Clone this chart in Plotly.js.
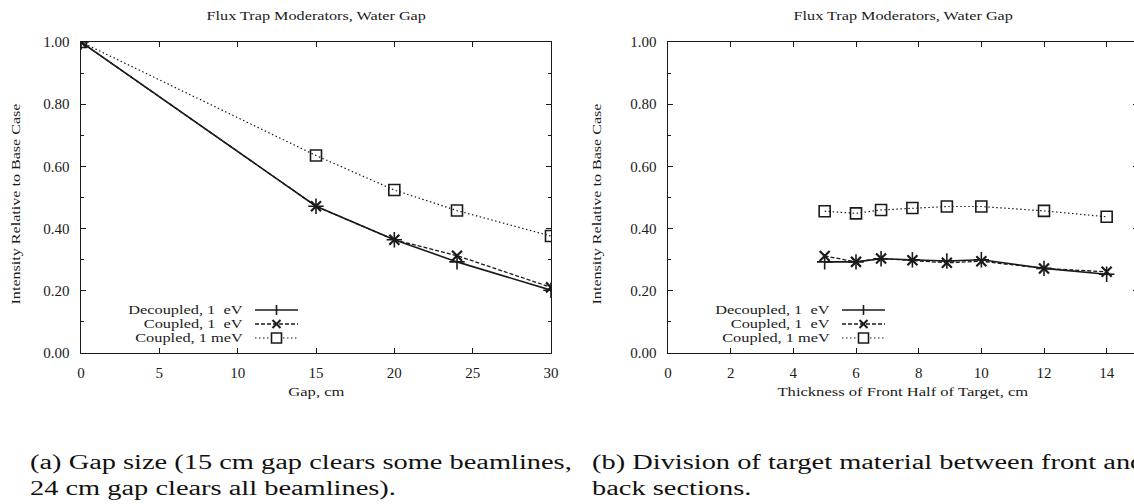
<!DOCTYPE html>
<html>
<head>
<meta charset="utf-8">
<script src="https://cdn.plot.ly/plotly-3.0.1.min.js"></script>
<style>
html,body{margin:0;padding:0;overflow:hidden;background:#fff;width:1134px;height:504px;}
#chart{width:1180px;height:504px;}
</style>
</head>
<body>
<div id="chart"></div>
<script>
// ---- data: (a) gap size ----
const gapCm = [0, 15, 20, 24, 30];
const gapDecoupled1eV = [1.00, 0.472, 0.364, 0.293, 0.202];
const gapCoupled1eV   = [1.00, 0.472, 0.364, 0.313, 0.211];
const gapCoupled1meV  = [1.00, 0.635, 0.524, 0.458, 0.376];

// ---- data: (b) front thickness ----
const frontCm = [5, 6, 6.8, 7.8, 8.9, 10, 12, 14];
const frontDecoupled1eV = [0.293, 0.293, 0.303, 0.300, 0.296, 0.300, 0.272, 0.253];
const frontCoupled1eV   = [0.312, 0.293, 0.304, 0.298, 0.290, 0.295, 0.272, 0.261];
const frontCoupled1meV  = [0.456, 0.449, 0.460, 0.466, 0.471, 0.471, 0.457, 0.438];

const seriesNames = ["Decoupled, 1  eV", "Coupled, 1  eV", "Coupled, 1 meV"];
const plotTitle = "Flux Trap Moderators, Water Gap";
const yTitle = "Intensity Relative to Base Case";
const xTitleA = "Gap, cm";
const xTitleB = "Thickness of Front Half of Target, cm";
const captionA = ["(a) Gap size (15 cm gap clears some beamlines,", "24 cm gap clears all beamlines)."];
const captionB = ["(b) Division of target material between front and", "back sections."];

// ---- layout geometry (pixels) ----
const W = 1180, H = 504;
const px = x => x / W;
const py = y => 1 - y / H;
const serif = "Liberation Serif, Times New Roman, serif";
const ink = "#1a1a1a";

const styles = [
  {line:{color:ink, width:1.6, dash:"solid"}, marker:{symbol:"cross-thin-open", size:11, line:{color:ink, width:1.6}}},
  {line:{color:ink, width:1.3, dash:"4px,2px"}, marker:{symbol:"x-thin-open", size:10, line:{color:ink, width:2.2}}},
  {line:{color:ink, width:1.2, dash:"1.5px,2.5px"}, marker:{symbol:"square-open", size:11, line:{color:ink, width:1.6}}}
];

function mk(x, y, i, xa, ya) {
  return {x:x, y:y, xaxis:xa, yaxis:ya, type:"scatter", mode:"lines+markers",
          name:seriesNames[i], showlegend:false,
          line:styles[i].line, marker:styles[i].marker};
}

const traces = [
  mk(gapCm, gapCoupled1meV, 2, "x", "y"),
  mk(gapCm, gapCoupled1eV, 1, "x", "y"),
  mk(gapCm, gapDecoupled1eV, 0, "x", "y"),
  mk(frontCm, frontCoupled1meV, 2, "x2", "y2"),
  mk(frontCm, frontCoupled1eV, 1, "x2", "y2"),
  mk(frontCm, frontDecoupled1eV, 0, "x2", "y2")
];

const yDom = [py(353), py(42)];
const tickFont = {family:serif, size:15, color:ink};
function xax(dom, range, dtick, anchor) {
  return {domain:dom, range:range, dtick:dtick, tick0:0, anchor:anchor,
    ticks:"inside", ticklen:5, tickwidth:1, tickcolor:ink, mirror:"ticks",
    showline:true, linecolor:ink, linewidth:1.4, showgrid:false, zeroline:false,
    tickfont:tickFont, ticklabelstandoff:6, fixedrange:true};
}
function yax(anchor) {
  return {domain:yDom, range:[0,1], dtick:0.2, tick0:0, tickformat:".2f", anchor:anchor,
    ticks:"inside", ticklen:5, tickwidth:1, tickcolor:ink, mirror:"ticks",
    showline:true, linecolor:ink, linewidth:1.4, showgrid:false, zeroline:false,
    minor:{dtick:0.1, ticks:"inside", ticklen:3, tickcolor:ink, showgrid:false},
    tickfont:tickFont, ticklabelstandoff:7, fixedrange:true};
}

const plots = [
  {left:81, right:551, xTitle:xTitleA, caption:captionA, capX:28, yTitleX:16},
  {left:668, right:1138, xTitle:xTitleB, caption:captionB, capX:590, yTitleX:597}
];

// the scanned figure's lettering is set wide: stretch text horizontally
const annotations = [];
const stretch = [];
function addAnn(a, f) { annotations.push(a); stretch.push(f); }
const shapes = [];
plots.forEach(p => {
  const cx = (p.left + p.right) / 2;
  addAnn({text:plotTitle, xref:"paper", yref:"paper", x:px(cx), y:py(16),
    xanchor:"center", yanchor:"middle", showarrow:false, font:{family:serif, size:12, color:ink}}, 1.35);
  addAnn({text:p.xTitle, xref:"paper", yref:"paper", x:px(cx), y:py(392),
    xanchor:"center", yanchor:"middle", showarrow:false, font:{family:serif, size:12, color:ink}}, 1.38);
  addAnn({text:yTitle, xref:"paper", yref:"paper", x:px(p.yTitleX), y:py(204),
    xanchor:"center", yanchor:"middle", textangle:-90, showarrow:false, font:{family:serif, size:12, color:ink}}, 1.34);
  p.caption.forEach((line, k) => {
    addAnn({text:line, xref:"paper", yref:"paper", x:px(p.capX), y:py(462 + 26*k),
      xanchor:"left", yanchor:"middle", showarrow:false, font:{family:serif, size:20, color:"#111"}}, 1.42);
  });
  // legend (gnuplot style: text, then line sample with marker)
  const textR = p.left + 164, l0 = p.left + 174, l1 = p.left + 217, mx = (l0 + l1) / 2;
  [310, 324, 338].forEach((ry, i) => {
    addAnn({text:seriesNames[i], xref:"paper", yref:"paper", x:px(textR), y:py(ry),
      xanchor:"right", yanchor:"middle", showarrow:false, font:{family:serif, size:11.5, color:ink}}, 1.42);
    shapes.push({type:"line", xref:"paper", yref:"paper", x0:px(l0), x1:px(l1), y0:py(ry), y1:py(ry),
      line:{color:ink, width:styles[i].line.width, dash:styles[i].line.dash}});
    const s = 5;
    if (i === 0) {
      shapes.push({type:"line", xref:"paper", yref:"paper", x0:px(mx), x1:px(mx), y0:py(ry-s), y1:py(ry+s), line:{color:ink, width:1.6}});
    } else if (i === 1) {
      shapes.push({type:"line", xref:"paper", yref:"paper", x0:px(mx-4), x1:px(mx+4), y0:py(ry-4), y1:py(ry+4), line:{color:ink, width:2}});
      shapes.push({type:"line", xref:"paper", yref:"paper", x0:px(mx-4), x1:px(mx+4), y0:py(ry+4), y1:py(ry-4), line:{color:ink, width:2}});
    } else {
      shapes.push({type:"rect", xref:"paper", yref:"paper", x0:px(mx-5), x1:px(mx+5), y0:py(ry-5), y1:py(ry+5), fillcolor:"#fff", line:{color:ink, width:1.6}});
    }
  });
});

const layout = {
  width:W, height:H, margin:{l:0, r:0, t:0, b:0},
  paper_bgcolor:"#fff", plot_bgcolor:"#fff", showlegend:false,
  xaxis: xax([px(81), px(551)], [0,30], 5, "y"),
  yaxis: yax("x"),
  xaxis2: xax([px(668), px(1138)], [0,15], 2, "y2"),
  yaxis2: yax("x2"),
  annotations:annotations, shapes:shapes
};

const gd = document.getElementById("chart");
Plotly.newPlot(gd, traces, layout, {displayModeBar:false, staticPlot:true}).then(() => {
  annotations.forEach((a, i) => {
    const f = stretch[i];
    if (!f || f === 1) return;
    const t = gd.querySelector('.annotation[data-index="' + i + '"] text.annotation-text');
    if (!t) return;
    const L = t.getComputedTextLength();
    t.setAttribute("lengthAdjust", "spacingAndGlyphs");
    t.setAttribute("textLength", (L * f).toFixed(2));
    const extra = L * (f - 1);
    const dx = a.xanchor === "left" ? extra / 2 : (a.xanchor === "right" ? -extra / 2 : 0);
    if (dx) t.setAttribute("transform", "translate(" + dx.toFixed(2) + ",0)");
  });
});
</script>
</body>
</html>
